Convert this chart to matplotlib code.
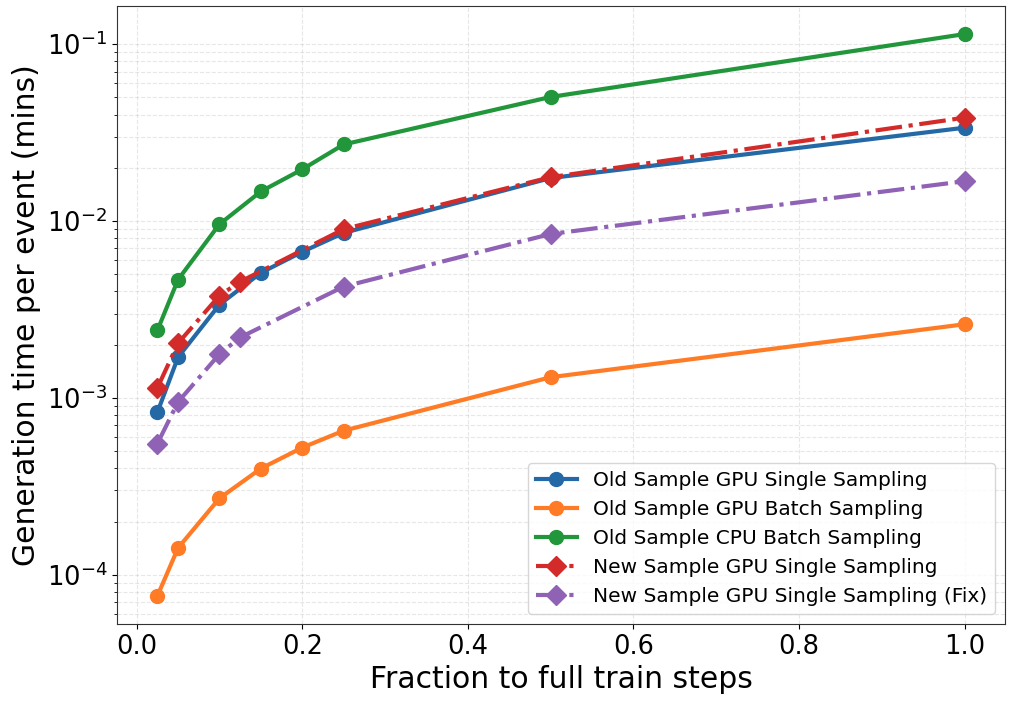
import matplotlib
matplotlib.use("Agg")
import matplotlib.pyplot as plt

x_old = [0.025, 0.05, 0.1, 0.15, 0.2, 0.25, 0.5, 1.0]
x_new = [0.025, 0.05, 0.1, 0.125, 0.25, 0.5, 1.0]

old_gpu_single = [8.3e-4, 1.70e-3, 3.37e-3, 5.1e-3, 6.7e-3, 8.57e-3, 1.75e-2, 3.37e-2]
old_gpu_batch = [7.6e-5, 1.42e-4, 2.71e-4, 3.99e-4, 5.24e-4, 6.53e-4, 1.31e-3, 2.61e-3]
old_cpu_batch = [2.41e-3, 4.67e-3, 9.6e-3, 1.47e-2, 1.96e-2, 2.71e-2, 5.03e-2, 0.114]
new_gpu_single = [1.14e-3, 2.04e-3, 3.79e-3, 4.54e-3, 9.0e-3, 1.77e-2, 3.84e-2]
new_gpu_single_fix = [5.52e-4, 9.5e-4, 1.77e-3, 2.20e-3, 4.26e-3, 8.45e-3, 1.68e-2]

fig, ax = plt.subplots(figsize=(10.15, 7.06), dpi=100)

ax.plot(x_old, old_gpu_single, 'o-', color='#2469a6', lw=3, ms=10, label='Old Sample GPU Single Sampling')
ax.plot(x_old, old_gpu_batch, 'o-', color='#ff7b26', lw=3, ms=10, label='Old Sample GPU Batch Sampling')
ax.plot(x_old, old_cpu_batch, 'o-', color='#22963a', lw=3, ms=10, label='Old Sample CPU Batch Sampling')
ax.plot(x_new, new_gpu_single, 'D-.', color='#d32a2a', lw=3, ms=10, label='New Sample GPU Single Sampling')
ax.plot(x_new, new_gpu_single_fix, 'D-.', color='#8f62b5', lw=3, ms=10, label='New Sample GPU Single Sampling (Fix)')

ax.set_yscale('log')
ax.set_xlabel('Fraction to full train steps', fontsize=21.5)
ax.set_ylabel('Generation time per event (mins)', fontsize=21.5)
ax.tick_params(labelsize=18.5)
ax.grid(True, which='both', ls='--', alpha=0.3)
for s in ax.spines.values():
    s.set_color('#333333')
ax.legend(fontsize=14.5, loc='lower right')

fig.subplots_adjust(left=0.1153, right=0.9901, top=0.9915, bottom=0.1161)
fig.savefig('out.png')
